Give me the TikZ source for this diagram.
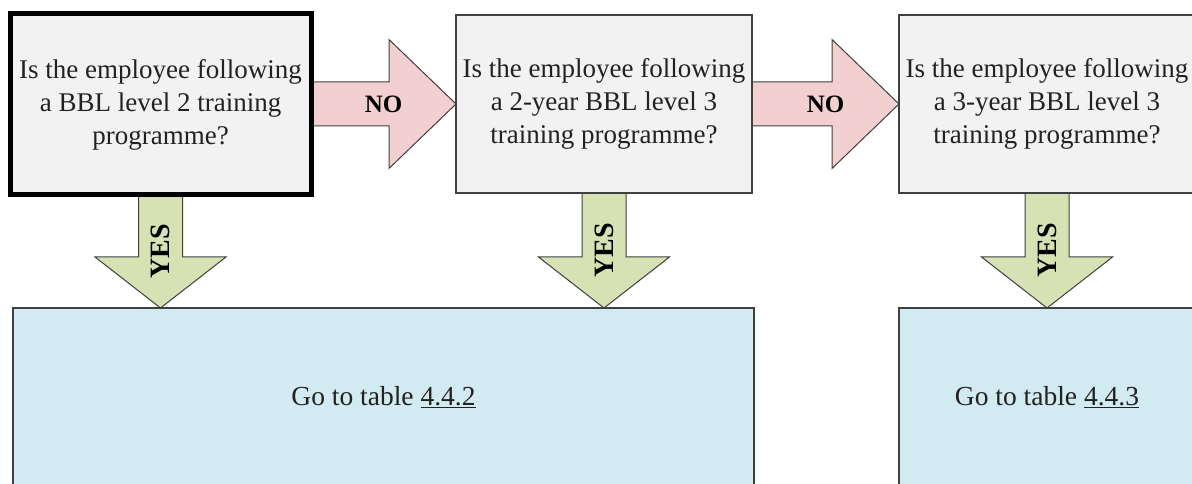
\documentclass[tikz,border=0pt]{standalone}
\usepackage{fontspec}
\setmainfont{Liberation Serif}
\usetikzlibrary{calc,backgrounds}
\definecolor{qfill}{RGB}{242,242,242}
\definecolor{qline}{RGB}{64,64,64}
\definecolor{nofill}{RGB}{242,208,207}
\definecolor{yesfill}{RGB}{214,225,180}
\definecolor{gofill}{RGB}{210,234,241}
\definecolor{txt}{RGB}{34,34,34}
\tikzset{
  qbox/.style={draw=qline, line width=1.3pt, fill=qfill, outer sep=0pt, inner sep=0pt,
    minimum height=178pt, minimum width=296pt, align=center, text=txt,
    font=\fontsize{27}{33}\selectfont},
  qboxthick/.style={qbox, draw=black, line width=5pt, minimum width=301pt, minimum height=181pt},
  gobox/.style={draw=qline, line width=1.3pt, fill=gofill, outer sep=0pt, inner sep=0pt,
    minimum height=178pt, align=center, text=txt, font=\fontsize{27.5}{33}\selectfont},
  noarr/.style={draw=qline, line width=1pt, fill=nofill, line join=miter},
  yesarr/.style={draw=qline, line width=1pt, fill=yesfill, line join=miter},
  lbl/.style={font=\bfseries\fontsize{25}{30}\selectfont, text=black, inner sep=0pt},
  ylbl/.style={lbl, font=\bfseries\fontsize{28}{30}\selectfont, rotate=90},
}
\begin{document}
\begin{tikzpicture}[x=1pt,y=1pt]
\useasboundingbox (0,0) rectangle (1192,484);
\clip (0,0) rectangle (1192,484);
\node[qboxthick] (q1) at (160.5,379.5) {Is the employee following\\a BBL level 2 training\\programme?};
\node[qbox] (q2) at (604,380) {Is the employee following\\a 2-year BBL level 3\\training programme?};
\node[qbox] (q3) at (1047,380) {Is the employee following\\a 3-year BBL level 3\\training programme?};
\node[gobox, minimum width=741pt] (gA) at (383.5,87) {Go to table \underline{4.4.2}};
\node[gobox, minimum width=296pt] (gB) at (1047,87) {Go to table \underline{4.4.3}};
\coordinate (t1) at (q1.south |- gA.north);
\coordinate (t2) at (q2.south |- gA.north);
\coordinate (t3) at (q3.south |- gB.north);
\begin{scope}[on background layer]
  % NO arrows
  \foreach \a/\b in {q1/q2, q2/q3}{
    \draw[noarr] ([yshift=22pt]\a.east |- \b.west) -- ([xshift=-67pt,yshift=22pt]\b.west)
      -- ([xshift=-67pt,yshift=64.5pt]\b.west) -- (\b.west)
      -- ([xshift=-67pt,yshift=-64.5pt]\b.west) -- ([xshift=-67pt,yshift=-22pt]\b.west)
      -- ([yshift=-22pt]\a.east |- \b.west) -- cycle;
  }
  % YES arrows
  \foreach \a/\t in {q1/t1, q2/t2, q3/t3}{
    \draw[yesarr] ([xshift=-22pt]\a.south) -- ([xshift=-22pt,yshift=51pt]\t)
      -- ([xshift=-65.5pt,yshift=51pt]\t) -- (\t)
      -- ([xshift=65.5pt,yshift=51pt]\t) -- ([xshift=22pt,yshift=51pt]\t)
      -- ([xshift=22pt]\a.south) -- cycle;
  }
\end{scope}
\node[lbl] (no1) at ($(q1.east |- q2.west)!0.5!(q2.west)$) {NO};
\node[lbl] (no2) at ($(q2.east)!0.5!(q3.west)$) {NO};
\node[ylbl] (y1) at ($(q1.south)!0.5!(t1)$) {YES};
\node[ylbl] (y2) at ($(q2.south)!0.5!(t2)$) {YES};
\node[ylbl] (y3) at ($(q3.south)!0.5!(t3)$) {YES};
\end{tikzpicture}
\end{document}
